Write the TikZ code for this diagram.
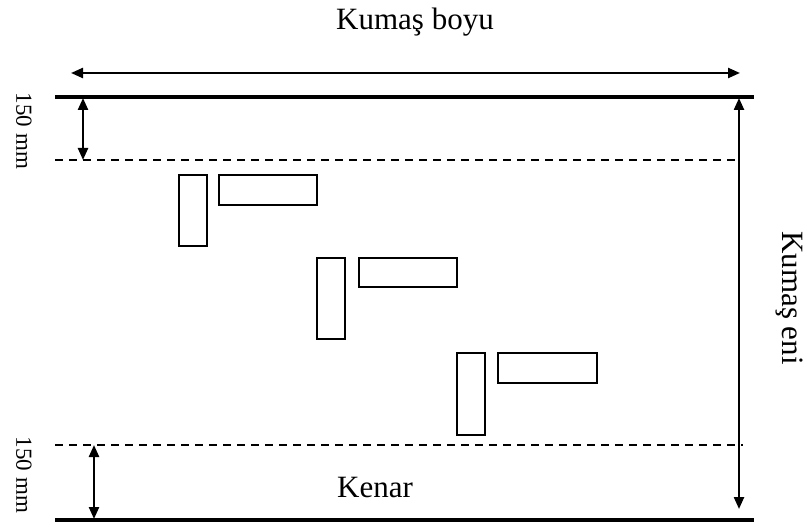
\documentclass[tikz,border=0pt]{standalone}
\usepackage{fontspec}
\setmainfont{Liberation Serif}
\usetikzlibrary{arrows.meta}
\tikzset{
  edge/.style={line width=3.6pt},
  guide/.style={line width=1.3pt, dash pattern=on 8pt off 6pt},
  dim/.style={line width=2.3pt, {Triangle[length=12pt,width=10pt]}-{Triangle[length=12pt,width=10pt]}},
  piece/.style={line width=2.3pt},
  lbl/.style={font=\fontsize{31}{36}\selectfont, inner sep=0pt},
  smalllbl/.style={font=\fontsize{23}{28}\selectfont, inner sep=0pt},
}
\begin{document}
\begin{tikzpicture}[x=1pt,y=-1pt]
\useasboundingbox (0,0) rectangle (810,526);
% edges
\coordinate (tl) at (55,97); \coordinate (tr) at (754,97);
\coordinate (bl) at (55,520); \coordinate (br) at (754,520);
\draw[edge] (tl) -- (tr);
\draw[edge] (bl) -- (br);
% dashed guides
\coordinate (gtl) at (55,160); \coordinate (gtr) at (735,160);
\coordinate (gbl) at (55,445); \coordinate (gbr) at (743,445);
\draw[guide] (gtl) -- (gtr);
\draw[guide] (gbl) -- (gbr);
% dimension arrows
\coordinate (ha) at (71,73); \coordinate (hb) at (740,73);
\draw[dim] (ha) -- (hb);
\coordinate (v1a) at (83,98); \coordinate (v1b) at (83,160);
\draw[dim] (v1a) -- (v1b);
\coordinate (v2a) at (94,445); \coordinate (v2b) at (94,519);
\draw[dim] (v2a) -- (v2b);
\coordinate (v3a) at (739,98); \coordinate (v3b) at (739,509);
\draw[dim] (v3a) -- (v3b);
% pieces
\draw[piece] (179,175) rectangle (207,246);
\draw[piece] (219,175) rectangle (317,205);
\draw[piece] (317,258) rectangle (345,339);
\draw[piece] (359,258) rectangle (457,287);
\draw[piece] (457,353) rectangle (485,435);
\draw[piece] (498,353) rectangle (597,383);
% labels
\node[lbl, anchor=base] (boy) at (415,30) {Kumaş boyu};
\node[lbl, anchor=base] (kenar) at (375,497) {Kenar};
\node[lbl, rotate=-90] (en) at (789,298) {Kumaş eni};
\node[smalllbl, rotate=-90] (m1) at (24,131) {150 mm};
\node[smalllbl, rotate=-90] (m2) at (24,475) {150 mm};
\end{tikzpicture}
\end{document}
